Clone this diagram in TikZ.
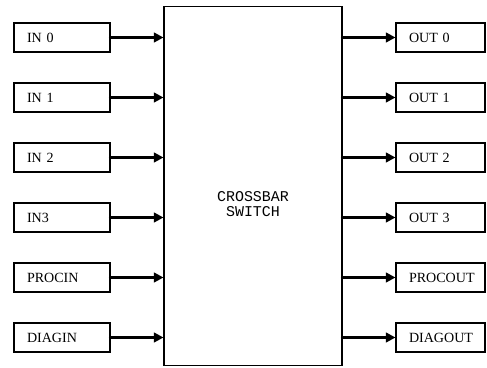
\documentclass[tikz,border=0pt]{standalone}
\usepackage{fontspec}
\setmainfont{Liberation Serif}
\setmonofont{Liberation Mono}
\usetikzlibrary{arrows.meta}

\tikzset{
  port/.style={draw,line width=0.6pt,minimum height=0.58cm,inner xsep=0.26cm,
    align=left,font=\fontsize{8}{9}\selectfont},
  inport/.style={port,text width=1.4cm},
  outport/.style={port,text width=1.26cm},
  link/.style={line width=1.8pt,-{Triangle[length=5.5pt,width=5.5pt]}}
}

\begin{document}
\begin{tikzpicture}[x=0.02cm,y=-0.02cm,line cap=round]
    \useasboundingbox (0,0) rectangle (487,368);
    \node[draw,line width=0.6pt,minimum width=3.56cm,minimum height=7.2cm] (switch) at (253,186) {};
    \node[font=\ttfamily\fontsize{8.5}{8.5}\selectfont,align=center] (swlabel) at (253,204) {CROSSBAR\\SWITCH};
    \foreach \i/\inlab/\outlab in {0/IN 0/OUT 0,1/IN 1/OUT 1,2/IN 2/OUT 2,3/IN3/OUT 3,4/PROCIN/PROCOUT,5/DIAGIN/DIAGOUT}{
      \node[inport] (in\i) at (62,37.5+60*\i) {\inlab};
      \node[outport] (out\i) at (440.5,37.5+60*\i) {\outlab};
      \draw[link] (in\i.east) -- (switch.west |- in\i.east);
      \draw[link] (switch.east |- out\i.west) -- (out\i.west);
    }
  \end{tikzpicture}
\end{document}
